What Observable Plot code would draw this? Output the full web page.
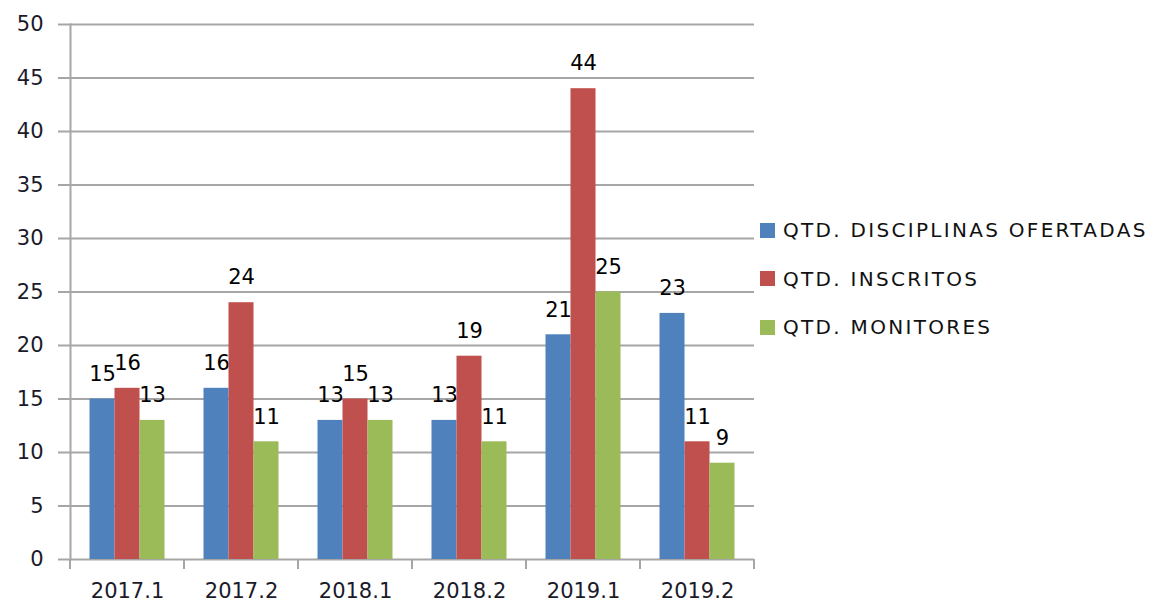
<!DOCTYPE html>
<html><head><meta charset="utf-8">
<script src="https://cdn.jsdelivr.net/npm/d3@7"></script>
<script src="https://cdn.jsdelivr.net/npm/@observablehq/plot@0.6"></script>
<style>
body{margin:0;background:#fff;}
#wrap{position:relative;width:1156px;height:606px;overflow:hidden;}
#legend{position:absolute;left:760px;top:206px;font-family:"DejaVu Sans",sans-serif;font-size:20px;letter-spacing:2.3px;color:#111;}
.row{display:flex;align-items:center;height:48.5px;white-space:nowrap;}
.sw{width:15px;height:15px;margin-right:8px;flex:none;}
</style></head><body><div id="wrap"><div id="legend"></div></div>
<script>
const categories = ["2017.1","2017.2","2018.1","2018.2","2019.1","2019.2"];
const seriesNames = ["QTD. DISCIPLINAS OFERTADAS","QTD. INSCRITOS","QTD. MONITORES"];
const disciplinas = [15,16,13,13,21,23];
const inscritos = [16,24,15,19,44,11];
const monitores = [13,11,13,11,25,9];
const seriesColors = ["#4f81bd","#c0504d","#9bbb59"];
const yTicks = [0,5,10,15,20,25,30,35,40,45,50];

const seriesValues = [disciplinas, inscritos, monitores];
const data = [];
seriesNames.forEach((s, si) => categories.forEach((c, ci) => data.push({cat: c, series: s, si, value: seriesValues[si][ci]})));

const W = 1156, H = 606, mL = 70, mR = 402, mT = 24, mB = 47;
const bw = (W - mL - mR) / categories.length;
const group = bw * 0.658;
const each = group / 3;
const gridColor = "#a6a6a6";
const font = "DejaVu Sans, sans-serif";

const barMarks = [];
seriesNames.forEach((s, si) => {
  const d = data.filter(r => r.si === si);
  const insetLeft = (bw - group) / 2 + si * each;
  const insetRight = bw - insetLeft - each;
  barMarks.push(Plot.barY(d, {x: "cat", y: "value", fill: seriesColors[si], insetLeft, insetRight}));
  barMarks.push(Plot.text(d, {x: "cat", y: "value", text: d => String(d.value), dx: (si - 1) * each, dy: -25,
    lineAnchor: "middle", fontSize: 21, fill: "#000", fontFamily: font, style: "letter-spacing:1px"}));
});

const boundaryTicks = (index, scales, values, dims) => {
  const g = d3.create("svg:g");
  const x = scales.x;
  const y0 = scales.y(0);
  const lefts = categories.map(c => x(c));
  const step = lefts[1] - lefts[0];
  const xs = [...lefts, lefts[lefts.length - 1] + step];
  xs.forEach(px => g.append("line").attr("x1", px).attr("x2", px).attr("y1", y0).attr("y2", y0 + 10)
    .attr("stroke", gridColor).attr("stroke-width", 2));
  return g.node();
};

const chart = Plot.plot({
  width: W, height: H,
  marginLeft: mL, marginRight: mR, marginTop: mT, marginBottom: mB,
  style: {fontFamily: font, background: "#fff", overflow: "visible"},
  x: {domain: categories, padding: 0, label: null},
  y: {domain: [0, 50], label: null},
  marks: [
    Plot.gridY(yTicks, {stroke: gridColor, strokeOpacity: 1, strokeWidth: 2}),
    Plot.axisY(yTicks, {tickSize: 12, tickPadding: 15, stroke: gridColor, strokeWidth: 2, fontSize: 21, fill: "#1a1a2a", label: null, style: "letter-spacing:1.5px"}),
    Plot.frame({anchor: "left", stroke: gridColor, strokeWidth: 2}),
    ...barMarks,
    boundaryTicks,
    Plot.axisX({tickSize: 0, tickPadding: 24, fontSize: 21, fill: "#1a1a2a", label: null, style: "letter-spacing:1px"})
  ]
});
document.getElementById("wrap").prepend(chart);

const legend = document.getElementById("legend");
seriesNames.forEach((s, i) => {
  const row = document.createElement("div");
  row.className = "row";
  const sw = document.createElement("span");
  sw.className = "sw";
  sw.style.background = seriesColors[i];
  const t = document.createElement("span");
  t.textContent = s;
  row.append(sw, t);
  legend.append(row);
});
</script></body></html>
